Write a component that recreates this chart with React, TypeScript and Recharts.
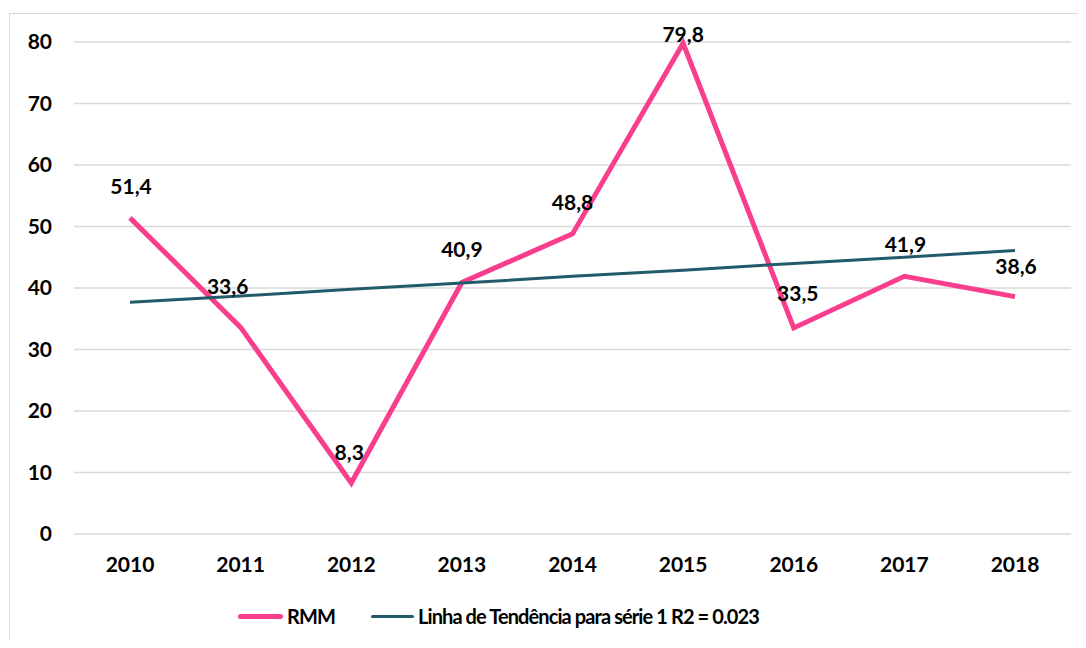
import { CartesianGrid, LabelList, Line, LineChart, XAxis, YAxis } from "recharts";

const years = ["2010", "2011", "2012", "2013", "2014", "2015", "2016", "2017", "2018"];
const rmm = [51.4, 33.6, 8.3, 40.9, 48.8, 79.8, 33.5, 41.9, 38.6];
// linear trend values
const trend = [37.7, 38.7, 39.8, 40.8, 41.9, 42.9, 44.0, 45.0, 46.1];
const yTicks = [0, 10, 20, 30, 40, 50, 60, 70, 80];

const PINK = "#F83E8D";
const TEAL = "#215B6A";
const FONT = "Lato, 'Open Sans', sans-serif";

const data = years.map((y, i) => ({ year: y, rmm: rmm[i], trend: trend[i] }));

// label nudges (dx, dy) relative to the point, per index
const labelNudge: [number, number][] = [
  [1, -32], [-13, -42], [-2, -31], [0, -34], [0, -32], [0, -10], [4, -35], [1, -33], [1, -31],
];

const tick = { fill: "#000", fontSize: 21, fontWeight: 700, fontFamily: FONT };

function PointLabel(props: any) {
  const { x, y, value, index } = props;
  const [dx, dy] = labelNudge[index] ?? [0, -30];
  return (
    <text x={x + dx} y={y + dy} textAnchor="middle" dominantBaseline="central"
      fill="#000" fontSize={21} fontWeight={700} fontFamily={FONT}>
      {String(value).replace(".", ",")}
    </text>
  );
}

function LegendBox() {
  return (
    <div style={{ position: "absolute", left: 238, top: 604, display: "flex", alignItems: "center", fontFamily: FONT, fontWeight: 700, fontSize: 20, letterSpacing: -0.9, color: "#000", whiteSpace: "nowrap" }}>
      <span style={{ width: 45, height: 5, background: PINK, borderRadius: 3, marginRight: 4 }} />
      <span>RMM</span>
      <span style={{ width: 43, height: 3, background: TEAL, borderRadius: 2, marginLeft: 36, marginRight: 4 }} />
      <span>Linha de Tendência para série 1 R2 = 0.023</span>
    </div>
  );
}

export default function App() {
  return (
    <div style={{ position: "relative", width: 1086, height: 648, margin: -8, background: "#fff", overflow: "hidden" }}>
      <div style={{ position: "absolute", left: 9, top: 13, width: 1100, height: 660, border: "1.5px solid #D9D9D9", boxSizing: "border-box" }} />
      <LineChart width={1086} height={648} data={data} margin={{ top: 42, right: 15, left: 0, bottom: 84 }}>
        <CartesianGrid vertical={false} stroke="#D9D9D9" strokeWidth={1.5} />
        <XAxis dataKey="year" axisLine={false} tickLine={false} tick={tick} tickMargin={17}
          padding={{ left: 56, right: 56 }} interval={0} />
        <YAxis domain={[0, 80]} ticks={yTicks} axisLine={false} tickLine={false} tick={tick}
          width={74} tickSize={0} tickMargin={22} />
        <Line type="linear" dataKey="rmm" stroke={PINK} strokeWidth={5} dot={false} isAnimationActive={false}>
          <LabelList dataKey="rmm" content={<PointLabel />} />
        </Line>
        <Line type="linear" dataKey="trend" stroke={TEAL} strokeWidth={3} dot={false} isAnimationActive={false} />
      </LineChart>
      <LegendBox />
    </div>
  );
}
